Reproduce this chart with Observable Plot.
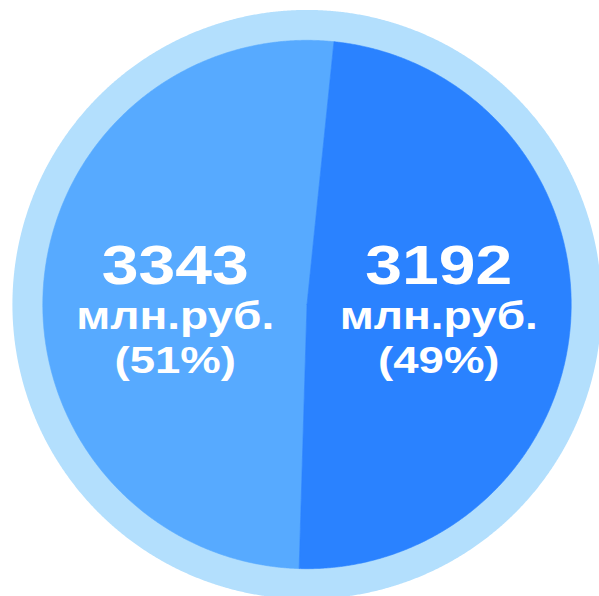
<!DOCTYPE html>
<html><head><meta charset="utf-8">
<script src="https://cdn.jsdelivr.net/npm/d3@7"></script>
<script src="https://cdn.jsdelivr.net/npm/@observablehq/plot@0.6"></script>
<style>html,body{margin:0;padding:0;background:#fff;overflow:hidden}</style>
</head><body><div id="chart"></div>
<script>
// ---- data ----
const categories = ["Сегмент 1", "Сегмент 2"];
const values = [3343, 3192];
const unitLabel = "млн.руб.";
const sliceColors = ["#57aaff", "#2a82ff"];
const ringColor = "#b3dffd";

// ---- layout ----
const W = 599, H = 596;
const cxPx = 306.5, cyPx = 304, rPx = 264.2;
const ringRatio = 1.115;
const startDeg = 181.7;
const labelRadius = 0.5;
const stretch = [1.18, 1.18, 1.23];

const total = d3.sum(values);
const pie = d3.pie().sort(null)
  .startAngle(startDeg * Math.PI / 180)
  .endAngle(startDeg * Math.PI / 180 + 2 * Math.PI)(values);

const slicePts = [];
const labels = [];
pie.forEach((p, i) => {
  const cat = categories[i];
  slicePts.push({cat, x: 0, y: 0});
  const n = Math.max(2, Math.ceil((p.endAngle - p.startAngle) / (Math.PI / 720)));
  for (let k = 0; k <= n; k++) {
    const a = p.startAngle + (p.endAngle - p.startAngle) * k / n;
    slicePts.push({cat, x: Math.sin(a), y: Math.cos(a)});
  }
  slicePts.push({cat, x: 0, y: 0});
  const mid = (p.startAngle + p.endAngle) / 2;
  labels.push({
    cat,
    x: labelRadius * Math.sin(mid),
    y: 0,
    value: String(values[i]),
    unit: unitLabel,
    pct: "(" + Math.round(values[i] / total * 100) + "%)"
  });
});

const ringPts = d3.range(0, 1441).map(k => {
  const a = k / 1440 * 2 * Math.PI;
  return {x: ringRatio * Math.sin(a), y: ringRatio * Math.cos(a)};
});

const font = "'Liberation Sans', Arial, Helvetica, sans-serif";
const textCommon = {x: "x", y: "y", fill: "white", fontWeight: "bold", fontFamily: font, textAnchor: "middle", lineAnchor: "bottom"};

const chart = Plot.plot({
  width: W, height: H, margin: 0,
  x: {domain: [-cxPx / rPx, (W - cxPx) / rPx], axis: null},
  y: {domain: [-(H - cyPx) / rPx, cyPx / rPx], axis: null},
  color: {domain: categories, range: sliceColors},
  marks: [
    Plot.line(ringPts, {x: "x", y: "y", fill: ringColor, stroke: "none"}),
    Plot.line(slicePts, {x: "x", y: "y", z: "cat", fill: "cat", stroke: "cat", strokeWidth: 0.6}),
    Plot.text(labels, {...textCommon, text: "value", fontSize: 56, dy: -21, className: "lab-l1"}),
    Plot.text(labels, {...textCommon, text: "unit", fontSize: 39, dy: 24, className: "lab-l2"}),
    Plot.text(labels, {...textCommon, text: "pct", fontSize: 37, dy: 68, className: "lab-l3"})
  ]
});

["lab-l1", "lab-l2", "lab-l3"].forEach((cls, j) => {
  chart.querySelectorAll("." + cls + " text").forEach(t => {
    const tr = t.getAttribute("transform");
    if (tr) t.setAttribute("transform", tr + ` scale(${stretch[j]},1)`);
    else {
      const x = +t.getAttribute("x") || 0, y = +t.getAttribute("y") || 0;
      t.removeAttribute("x"); t.removeAttribute("y");
      t.setAttribute("transform", `translate(${x},${y}) scale(${stretch[j]},1)`);
    }
  });
});

document.getElementById("chart").appendChild(chart);
</script>
</body></html>
